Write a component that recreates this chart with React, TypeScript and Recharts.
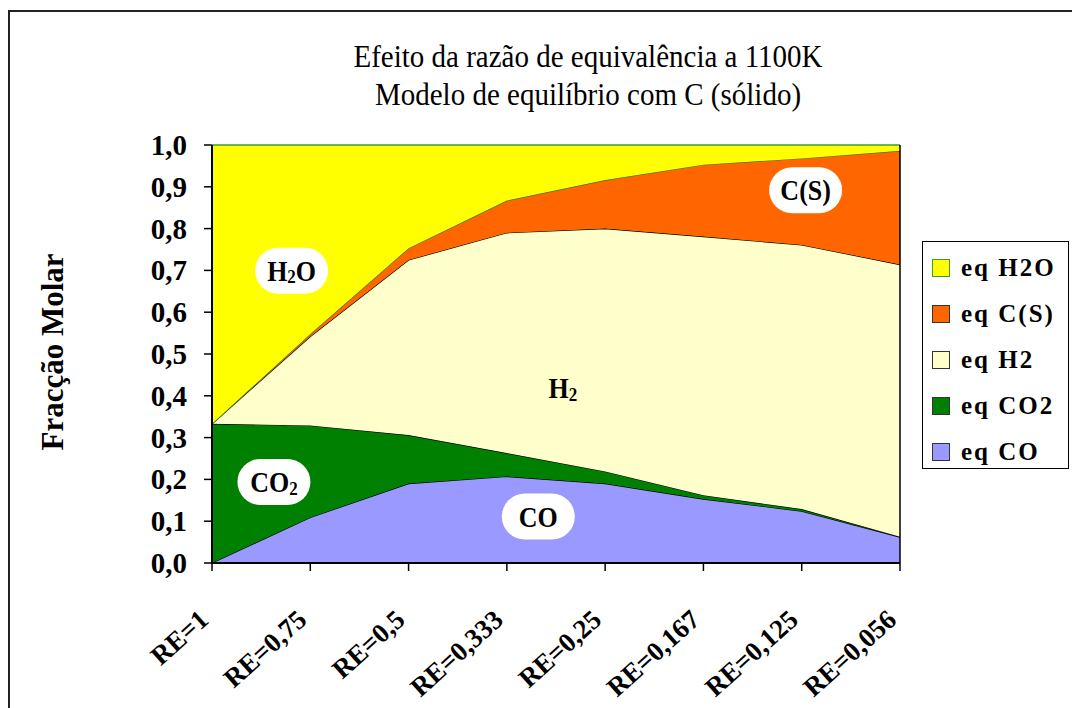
import { Area, AreaChart, ReferenceDot, ReferenceLine, XAxis, YAxis } from 'recharts';
import { type FC } from 'react';

// categorias (razão de equivalência)
const categories = ['RE=1', 'RE=0,75', 'RE=0,5', 'RE=0,333', 'RE=0,25', 'RE=0,167', 'RE=0,125', 'RE=0,056'];

// fracções molares
const eqCO = [0, 0.109, 0.19, 0.207, 0.19, 0.153, 0.124, 0.062];
const eqCO2 = [0.333, 0.22, 0.116, 0.056, 0.029, 0.009, 0.005, 0.001];
const eqH2 = [0, 0.213, 0.419, 0.527, 0.581, 0.619, 0.632, 0.651];
const eqCS = [0, 0.006, 0.028, 0.077, 0.116, 0.172, 0.207, 0.272];
const eqH2O = [0.667, 0.452, 0.247, 0.133, 0.084, 0.047, 0.032, 0.014];

const yTicks = [0, 0.1, 0.2, 0.3, 0.4, 0.5, 0.6, 0.7, 0.8, 0.9, 1.0];

const FONT = '"Liberation Serif", "Times New Roman", serif';

const data = categories.map((c, i) => ({
    idx: i,
    name: c,
    co: eqCO[i],
    co2: eqCO2[i],
    h2: eqH2[i],
    cs: eqCS[i],
    h2o: eqH2O[i],
}));

const legendItems = [
    { label: 'eq H2O', fill: '#FFFF00', border: '#3a9a3a' },
    { label: 'eq C(S)', fill: '#FF6600', border: '#333' },
    { label: 'eq H2', fill: '#FFFFCC', border: '#333' },
    { label: 'eq CO2', fill: '#008000', border: '#333' },
    { label: 'eq CO', fill: '#9999FF', border: '#333' },
];

// etiquetas dentro das áreas (x em índice de categoria, y em fracção)
const annotations = [
    { x: 0.81, y: 0.699, parts: ['H', '2', 'O'], box: true },
    { x: 0.63, y: 0.194, parts: ['CO', '2', ''], box: true },
    { x: 3.32, y: 0.111, parts: ['CO', '', ''], box: true },
    { x: 6.04, y: 0.892, parts: ['C(S)', '', ''], box: true },
    { x: 3.57, y: 0.419, parts: ['H', '2', ''], box: false },
];

const Pill = (props: any) => {
    const { cx, cy, parts, box } = props;
    const w = 73, h = 46;
    return (
        <g>
            {box && <rect x={cx - w / 2} y={cy - h / 2} width={w} height={h} rx={23} ry={23} fill="#fff" />}
            <text x={cx} y={cy + 9} textAnchor="middle" fontFamily={FONT} fontWeight="bold" fontSize={26} fill="#000"
                transform={`translate(0 ${cy}) scale(1 1.15) translate(0 ${-cy})`}>
                <tspan>{parts[0]}</tspan>
                {parts[1] && <tspan fontSize={17} dy={2}>{parts[1]}</tspan>}
                {parts[2] && <tspan dy={-2}>{parts[2]}</tspan>}
            </text>
        </g>
    );
};

const XTick = (props: any) => {
    const { x, y, payload } = props;
    const ax = x - 2, ay = y + 49;
    return (
        <text x={ax} y={ay} transform={`rotate(-42 ${ax} ${ay})`} textAnchor="end"
            fontFamily={FONT} fontWeight="bold" fontSize={27} fill="#000">
            {categories[payload.value]}
        </text>
    );
};

const YTick = (props: any) => {
    const { x, y, payload } = props;
    return (
        <text x={x - 15} y={y + 10} textAnchor="end" fontFamily={FONT} fontWeight="bold" fontSize={29} fill="#000">
            {Number(payload.value).toFixed(1).replace('.', ',')}
        </text>
    );
};

const titleStyle = {
    position: 'absolute' as const, left: 288, width: 600, height: 34, lineHeight: '34px',
    textAlign: 'center' as const, fontFamily: FONT, fontSize: 29, color: '#000',
    transform: 'scaleY(1.12)', whiteSpace: 'nowrap' as const,
};

const App: FC = () => {
    return (
        <div style={{ position: 'absolute', left: 0, top: 0, width: 1072, height: 708, overflow: 'hidden', background: '#fff' }}>
            {/* moldura */}
            <div style={{ position: 'absolute', left: 8, top: 10, width: 1100, height: 760, border: '2px solid #222', boxSizing: 'border-box' }} />

            <div style={{ ...titleStyle, top: 39 }}>Efeito da razão de equivalência a 1100K</div>
            <div style={{ ...titleStyle, top: 77 }}>Modelo de equilíbrio com C (sólido)</div>

            <AreaChart width={1072} height={708} data={data} margin={{ top: 145, right: 172, bottom: 45, left: 152 }}>
                <XAxis dataKey="idx" type="number" domain={[0, 7]} ticks={[0, 1, 2, 3, 4, 5, 6, 7]}
                    height={100} interval={0} tick={<XTick />} tickSize={8}
                    axisLine={{ stroke: '#000', strokeWidth: 2 }} tickLine={{ stroke: '#000', strokeWidth: 1.5 }} />
                <YAxis domain={[0, 1]} ticks={yTicks} width={60} tick={<YTick />} tickSize={8}
                    axisLine={{ stroke: '#000', strokeWidth: 2 }} tickLine={{ stroke: '#000', strokeWidth: 1.5 }} />
                <Area type="linear" dataKey="co" stackId="a" fill="#9999FF" fillOpacity={1} stroke="#000" strokeWidth={1.2} isAnimationActive={false} />
                <Area type="linear" dataKey="co2" stackId="a" fill="#008000" fillOpacity={1} stroke="#000" strokeWidth={1.2} isAnimationActive={false} />
                <Area type="linear" dataKey="h2" stackId="a" fill="#FFFFCC" fillOpacity={1} stroke="#000" strokeWidth={1.2} isAnimationActive={false} />
                <Area type="linear" dataKey="cs" stackId="a" fill="#FF6600" fillOpacity={1} stroke="#2f7f2f" strokeWidth={1.2} isAnimationActive={false} />
                <Area type="linear" dataKey="h2o" stackId="a" fill="#FFFF00" fillOpacity={1} stroke="#3a9a3a" strokeWidth={1.5} isAnimationActive={false} />
                <ReferenceLine x={7} stroke="#000" strokeWidth={1.5} />
                {annotations.map((a, i) => (
                    <ReferenceDot key={i} x={a.x} y={a.y} r={1}
                        shape={(p: any) => <Pill cx={p.cx} cy={p.cy} parts={a.parts} box={a.box} />} />
                ))}
            </AreaChart>

            <div style={{ position: 'absolute', left: 53, top: 352, transform: 'translate(-50%, -50%) rotate(-90deg)', whiteSpace: 'nowrap', fontFamily: FONT, fontWeight: 'bold', fontSize: 31, color: '#000' }}>
                Fracção Molar
            </div>

            {/* legenda */}
            <div style={{ position: 'absolute', left: 922, top: 241, width: 147, height: 228, border: '1.5px solid #000', boxSizing: 'border-box', background: '#fff' }}>
                {legendItems.map((it, i) => (
                    <div key={i} style={{ position: 'absolute', left: 9, top: 12 + i * 46, height: 28, display: 'flex', alignItems: 'center', fontFamily: FONT, fontWeight: 'bold', fontSize: 25, letterSpacing: 2, color: '#000', whiteSpace: 'nowrap' }}>
                        <span style={{ display: 'inline-block', width: 16, height: 16, background: it.fill, border: `1px solid ${it.border}`, marginRight: 11 }} />
                        <span>{it.label}</span>
                    </div>
                ))}
            </div>
        </div>
    );
};

export default App;
